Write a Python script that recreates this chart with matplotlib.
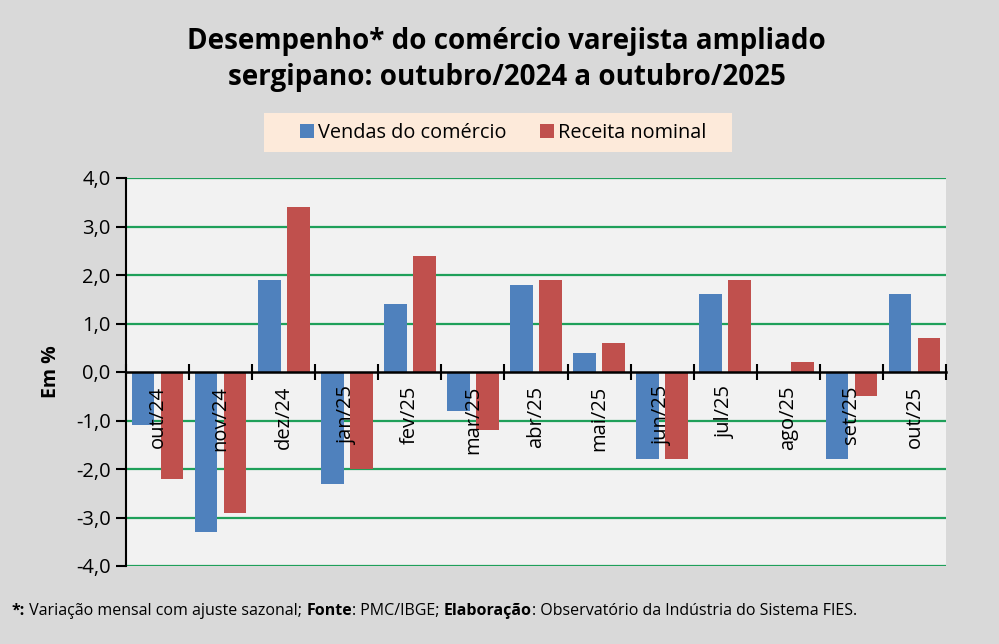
import matplotlib
matplotlib.use("Agg")
import matplotlib.pyplot as plt
from matplotlib.patches import Rectangle
import numpy as np

categories = ["out/24", "nov/24", "dez/24", "jan/25", "fev/25", "mar/25", "abr/25",
              "mai/25", "jun/25", "jul/25", "ago/25", "set/25", "out/25"]
vendas = [-1.1, -3.3, 1.9, -2.3, 1.4, -0.8, 1.8, 0.4, -1.8, 1.6, 0.0, -1.8, 1.6]
receita = [-2.2, -2.9, 3.4, -2.0, 2.4, -1.2, 1.9, 0.6, -1.8, 1.9, 0.2, -0.5, 0.7]
yticks = [-4, -3, -2, -1, 0, 1, 2, 3, 4]
ytick_labels = ["-4,0", "-3,0", "-2,0", "-1,0", "0,0", "1,0", "2,0", "3,0", "4,0"]

FONT = "Open Sans"
plt.rcParams['font.family'] = [FONT, 'DejaVu Sans']

BLUE = "#4F81BD"
RED = "#C0504D"
GREEN = "#1FA05A"

W, H = 999, 644
fig = plt.figure(figsize=(W/100, H/100), dpi=100)
fig.patch.set_facecolor("#D9D9D9")
ax = fig.add_axes([126/W, 1-566/H, (946-126)/W, (566-178)/H])
ax.set_facecolor("#F2F2F2")

x = np.arange(len(categories))
w = 0.36
off = 0.23
for yv in yticks:
    if yv != 0:
        ax.axhline(yv, color=GREEN, lw=1.6, zorder=1)
ax.bar(x - off, vendas, w, color=BLUE, label="Vendas do comércio", zorder=2)
ax.bar(x + off, receita, w, color=RED, label="Receita nominal", zorder=2)

ax.set_xlim(-0.5, len(categories) - 0.5)
ax.set_ylim(-4, 4)
ax.set_yticks(yticks)
ax.set_yticklabels(ytick_labels, fontsize=14.5)

for s in ["top", "right"]:
    ax.spines[s].set_visible(False)
ax.spines["left"].set_color("black")
ax.spines["left"].set_linewidth(1.5)
ax.spines["bottom"].set_position(("data", 0))
ax.spines["bottom"].set_linewidth(1.8)
ax.spines["bottom"].set_zorder(4)

ax.set_xticks(np.arange(len(categories) + 1) - 0.5)
ax.set_xticklabels([])
ax.set_xticks(x, minor=True)
ax.set_xticklabels(categories, minor=True, rotation=90, fontsize=14.5, va="top")
ax.tick_params(axis="x", which="major", direction="inout", length=11, width=1.5, color="black")
ax.tick_params(axis="x", which="minor", length=0, pad=10)
ax.tick_params(axis="y", direction="out", length=7, width=1.5, color="black", pad=4)
ax.xaxis.set_zorder(5)

ax.set_ylabel("Em %", fontsize=14, fontweight="bold", labelpad=11)

fig.text(0.507, 1-42/H, "Desempenho* do comércio varejista ampliado", ha="center", va="center",
         fontsize=20, fontweight="bold")
fig.text(0.507, 1-77/H, "sergipano: outubro/2024 a outubro/2025", ha="center", va="center",
         fontsize=20, fontweight="bold")

# legend background box
fig.add_artist(Rectangle((264/W, 1-152/H), (732-264)/W, (152-113)/H, transform=fig.transFigure,
                         facecolor="#FDEADA", edgecolor="none", zorder=0))
leg = fig.legend(loc="center", bbox_to_anchor=(503/W, 1-132.5/H), ncol=2, fontsize=14.3,
                 frameon=False, handlelength=0.7, handleheight=0.7,
                 handletextpad=0.2, columnspacing=1.7, borderpad=0.4)

# footnote with mixed bold
parts = [("*:", "bold"), (" Variação mensal com ajuste sazonal; ", "normal"), ("Fonte", "bold"),
         (": PMC/IBGE; ", "normal"), ("Elaboração", "bold"),
         (": Observatório da Indústria do Sistema FIES.", "normal")]
FS = 11.5
prev = fig.text(12/W, 1-615/H, parts[0][0], ha="left", va="baseline", fontsize=FS,
                fontweight=parts[0][1])
for txt, wt in parts[1:]:
    prev = ax.annotate(txt, xy=(1, 0), xycoords=prev, ha="left", va="bottom",
                       fontsize=FS, fontweight=wt, annotation_clip=False)

fig.savefig("out.png", dpi=100, facecolor=fig.get_facecolor())
